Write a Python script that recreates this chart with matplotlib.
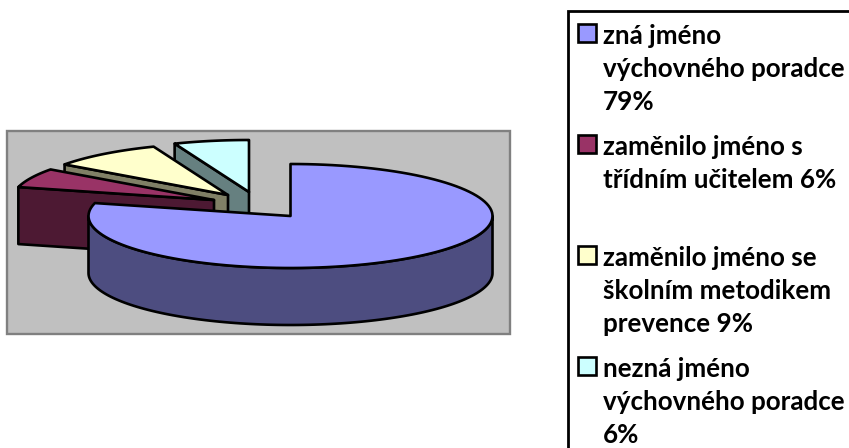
import numpy as np
import matplotlib
matplotlib.use('Agg')
import matplotlib.pyplot as plt
from matplotlib.patches import Polygon, Rectangle

# values of the slices, in percent, clockwise from 12 o'clock
shares = [79, 6, 9, 6]
top_colors = ['#9999FF', '#993366', '#FFFFCC', '#CCFFFF']
side_colors = ['#4D4D80', '#4D1933', '#808066', '#668080']
legend_labels = [
    'zná jméno\nvýchovného poradce\n79%',
    'zaměnilo jméno s\ntřídním učitelem 6%',
    'zaměnilo jméno se\nškolním metodikem\nprevence 9%',
    'nezná jméno\nvýchovného poradce\n6%',
]

# layout, all in pixels of the figure
apexes = [(290.5, 216), (214, 200), (228, 195), (249, 192)]
RX, RY, DEPTH = 202, 52, 57
legend_text_y = [24, 135, 246, 357]
legend_box_y = [33, 144, 255, 366]

fig = plt.figure(figsize=(8.49, 4.48), dpi=100)
ax = fig.add_axes([0, 0, 1, 1])
ax.set_xlim(0, 849)
ax.set_ylim(448, 0)
ax.axis('off')

ax.add_patch(Rectangle((7, 131), 503, 203, fc='#C0C0C0', ec='#808080', lw=1.7))


def rim(apex, start, stop, shift=0):
    """Points of the ellipse from angle start to stop, degrees clockwise from the top."""
    t = np.radians(np.linspace(start, stop, 120))
    return np.column_stack((apex[0] + RX * np.sin(t), apex[1] - RY * np.cos(t) + shift))


def draw_slice(idx, start, stop):
    apex = apexes[idx]
    top = rim(apex, start, stop)
    if idx == 0:
        # only the front half of the big slice shows its wall
        outer = rim(apex, 90, 270)
        wall = np.vstack((outer, outer[::-1] + [0, DEPTH]))
    else:
        # the cut face at the start angle looks at the viewer
        corner = top[0]
        wall = np.array([corner, apex, np.add(apex, (0, DEPTH)), np.add(corner, (0, DEPTH))])
    ax.add_patch(Polygon(wall, closed=True, fc=side_colors[idx], ec='black', lw=1.9, joinstyle='round'))
    ax.add_patch(Polygon(np.vstack(([apex], top)), closed=True, fc=top_colors[idx], ec='black',
                         lw=1.9, joinstyle='round'))


edges = np.cumsum([0] + shares) * 3.6
# back slices first, the big one goes over them
for i in [3, 2, 1, 0]:
    draw_slice(i, edges[i], edges[i + 1])

# legend box runs off the right and bottom of the picture
ax.add_patch(Rectangle((568, 11), 300, 460, fc='white', ec='black', lw=2))
for i, label in enumerate(legend_labels):
    ax.add_patch(Rectangle((578, legend_box_y[i] - 9), 18, 18, fc=top_colors[i], ec='black', lw=1.9))
    ax.text(603, legend_text_y[i], label, family='Lato', weight='bold', fontsize=18.7,
            va='top', ha='left', linespacing=1.46, color='black')

fig.savefig('out.png', dpi=100)
